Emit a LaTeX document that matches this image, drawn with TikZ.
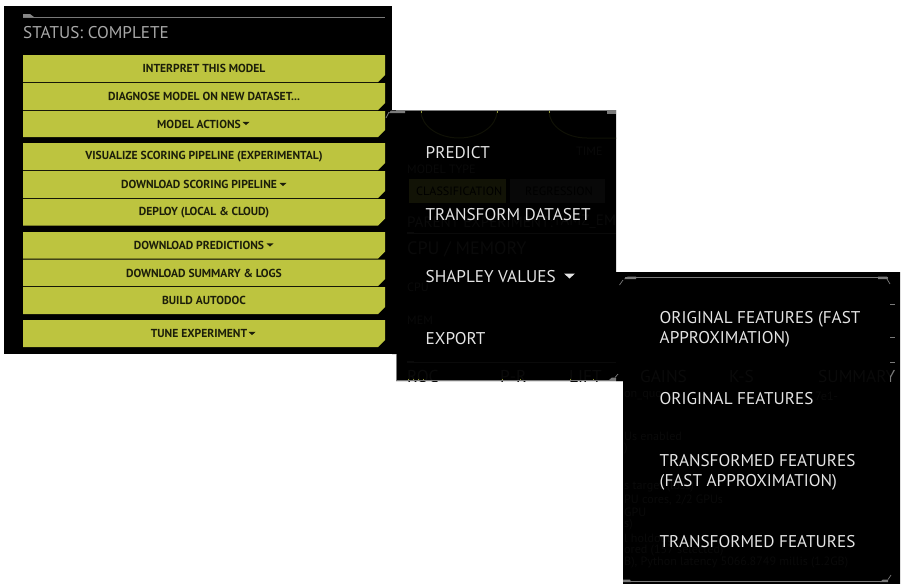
\documentclass[tikz,border=0pt]{standalone}
\usepackage{fontspec}
\setmainfont{PT Sans}
\newfontfamily\uifont[FakeStretch=1.01]{PT Sans}
\newfontfamily\btnfont[FakeStretch=1.0]{PT Sans}
\definecolor{lime}{HTML}{BDC43F}
\definecolor{btntext}{HTML}{1C1E0A}
\definecolor{menutext}{HTML}{E4E4E4}
\definecolor{statustext}{HTML}{A8A8A8}
\definecolor{rulegrey}{HTML}{7A7A7A}
\definecolor{ghost}{HTML}{0A0A0A}
\definecolor{ghostbox}{HTML}{080808}
\definecolor{ghostlime}{HTML}{121306}
\definecolor{ghostarc}{HTML}{101106}
\definecolor{tickcol}{HTML}{8E9334}
\tikzset{
  x=1pt,y=-1pt,
  panel/.style={fill=black,draw=none},
  btn/.style={fill=lime,draw=none},
  btnlabel/.style={text=btntext,font=\btnfont\bfseries\fontsize{11.6}{12}\selectfont,inner sep=0pt,anchor=center},
  menulabel/.style={text=menutext,font=\uifont\fontsize{17}{20}\selectfont,inner sep=0pt,anchor=west,align=left},
  ghostlabel/.style={text=ghost,font=\uifont\fontsize{15}{16}\selectfont,inner sep=0pt,anchor=west},
  tablabel/.style={text=ghost,font=\uifont\fontsize{17.2}{18}\selectfont,inner sep=0pt,anchor=west},
  smallghost/.style={text=ghost,font=\uifont\fontsize{12}{13}\selectfont,inner sep=0pt,anchor=west},
  trim/.style={draw=rulegrey,line width=1pt},
  fineline/.style={draw=ghost,line width=0.6pt},
  tickmark/.style={draw=tickcol,line width=1pt},
}
\newcommand{\btnat}[4]{% name, top y, bottom y, text
  \fill[btn] (23,#2) -- (385,#2) -- (385,#3-7) -- (378,#3) -- (23,#3) -- cycle;
  \node[btnlabel] (#1) at (204,{(#2+#3)/2+0.4}) {#4};
}
\newcommand{\downtri}[3]{\fill[#3] (#1-3.5,#2-1.7) -- (#1+3.5,#2-1.7) -- (#1,#2+1.7) -- cycle;}
\begin{document}
\begin{tikzpicture}
\useasboundingbox (0,0) rectangle (903,584);
\fill[white] (0,0) rectangle (903,584);
% panels
\fill[panel] (4,6) rectangle (392,354);
\fill[panel] (392,110) -- (616,110) -- (616,272) -- (623,272) -- (623,381) -- (396,381) -- (396,354) -- (392,354) -- cycle;
\fill[panel] (616,272) -- (900,272) -- (900,584) -- (623,584) -- (623,381) -- (616,381) -- cycle;
% panel 1
\draw[trim] (23,17) -- (385,17);
\fill[rulegrey!90!white] (23,17) -- (23,14) -- (30,14) -- (34,17) -- cycle;
\node[text=statustext,font=\uifont\fontsize{17}{19}\selectfont,inner sep=0pt,anchor=west] (status) at (23,32.5) {STATUS: COMPLETE};
\btnat{b1}{55}{82}{INTERPRET THIS MODEL}
\btnat{b2}{83}{110}{DIAGNOSE MODEL ON NEW DATASET...}
\btnat{b3}{111}{137}{MODEL ACTIONS\kern10pt}
\downtri{246}{123.5}{btntext}
\btnat{b4}{143}{170}{VISUALIZE SCORING PIPELINE (EXPERIMENTAL)}
\btnat{b5}{171}{198}{DOWNLOAD SCORING PIPELINE\kern10pt}
\downtri{283}{184.5}{btntext}
\btnat{b6}{199}{225.5}{DEPLOY (LOCAL \& CLOUD)}
\btnat{b7}{232}{258.5}{DOWNLOAD PREDICTIONS\kern10pt}
\downtri{270}{245}{btntext}
\btnat{b8}{259.5}{286}{DOWNLOAD SUMMARY \& LOGS}
\btnat{b9}{287}{314}{BUILD AUTODOC}
\btnat{b10}{320}{347}{TUNE EXPERIMENT\kern10pt}
\downtri{252}{333.5}{btntext}
% panel 2 ghosts
\begin{scope}
\clip (396,111) rectangle (616,381);
\draw[ghostarc,line width=1pt] (421,111) arc[start angle=180,end angle=360,x radius=38,y radius=-27];
\draw[ghostarc,line width=1pt] (549,111) arc[start angle=180,end angle=270,x radius=38,y radius=-27] -- (616,138);
\node[smallghost] (g1) at (407,169) {MODEL TYPE};
\fill[ghostlime] (409,179) rectangle (506,203);
\fill[ghostbox] (510,179) rectangle (605,203);
\node[smallghost,text=black] (g1a) at (416,191) {CLASSIFICATION};
\node[smallghost,text=black] (g1b) at (525,191) {REGRESSION};
\node[smallghost] (g2) at (576,151) {TIME};
\node[ghostlabel] (g3) at (407,222) {PARENT EXPERIMENT:};
\node[ghostlabel] (g4) at (553,222) {TAMZ\_EMP\_};
\draw[fineline] (407,233) -- (616,233);
\fill[ghost] (407,232) rectangle (414,234);
\node[text=ghost,font=\uifont\fontsize{18}{20}\selectfont,inner sep=0pt,anchor=west] (g5) at (407,249) {CPU / MEMORY};
\node[smallghost] (g6) at (407,287) {CPU};
\node[smallghost] (g7) at (407,320) {MEM};
\draw[fineline] (407,362) -- (616,362);
\fill[ghost] (407,360.5) rectangle (414,363);
\node[tablabel] (g8) at (407,376) {ROC};
\node[tablabel] (g9) at (500,376) {P-R};
\node[tablabel] (g10) at (569,376) {LIFT};
\end{scope}
\foreach \tx in {421,497,549}{\draw[tickmark] (\tx,111) -- (\tx,112.5);}
\foreach \tx in {408,413,418,423,502,520,570,593}{\draw[tickmark] (\tx,378.5) -- (\tx,380);}
% panel 2 trim
\draw[trim] (396,110.7) -- (616,110.7);
\fill[rulegrey] (391,110.5) -- (405,110.5) -- (405,113) -- (389,113) -- cycle;
\draw[rulegrey,line width=0.7pt] (389,112) -- (386,118);
\fill[rulegrey] (607,110.5) -- (616,110.5) -- (616,114) -- (607,114) -- cycle;
\draw[rulegrey,line width=0.8pt] (396.5,354) -- (396.5,380);
\draw[trim] (396,380.3) -- (611,380.3);
\fill[rulegrey] (608,380.8) -- (612,377.5) -- (616,377.5) -- (616,380.8) -- cycle;
\draw[rulegrey,line width=0.7pt] (615,377.5) -- (618,374);
% panel 3 ghosts
\begin{scope}
\clip (616,273) rectangle (900,584);
\node[tablabel] (g11) at (640,376) {GAINS};
\node[tablabel] (g12) at (729,376) {K-S};
\begin{scope}
\clip (616,273) rectangle (890.5,584);
\node[tablabel] (g13) at (818,376) {SUMMARY};
\end{scope}
\begin{scope}
\clip (890.5,273) rectangle (900,584);
\node[tablabel,text=rulegrey] (g13b) at (818,376) {SUMMARY};
\end{scope}
\node[smallghost] (g22) at (624,396) {on\_quo};
\node[smallghost] (g23) at (815,396) {7e1-};
\node[smallghost] (g14) at (624,436) {Us enabled};
\node[smallghost] (g24) at (624,449) {)};
\node[smallghost] (g15) at (624,487) {s target (loss)};
\node[smallghost] (g16) at (624,500) {PU cores, 2/2 GPUs};
\node[smallghost] (g17) at (624,512) {GPU};
\node[smallghost] (g18) at (624,525) {s)};
\node[smallghost] (g19) at (624,538) {l holdout};
\node[smallghost] (g20) at (624,551) {ored (157 selected)};
\node[smallghost] (g21) at (624,563) {B), Python latency 5066.8749 millis (1.2GB)};
\end{scope}
% panel 3 trim
\draw[trim] (625,277.7) -- (888,277.7);
\fill[rulegrey] (624,279) -- (628,276.5) -- (636,276.5) -- (636,279) -- cycle;
\draw[rulegrey,line width=0.7pt] (623,280) -- (619.5,285);
\fill[rulegrey] (878,276.5) -- (887,276.5) -- (888,279) -- (878,279) -- cycle;
\draw[rulegrey,line width=0.7pt] (887,279) -- (890,284);
\foreach \ty in {304.5,337.5,362}{\draw[rulegrey,line width=0.6pt] (890,\ty) -- (895,\ty);}
\draw[trim] (623,581.7) -- (888,581.7);
\fill[rulegrey] (623,579.5) -- (630,579.5) -- (631,582) -- (623,582) -- cycle;
\fill[rulegrey] (880,582) -- (883,579.5) -- (888,579.5) -- (888,582) -- cycle;
\draw[rulegrey,line width=0.7pt] (888,579.5) -- (891,575);
% menu labels
\node[menulabel] (m1) at (425.5,152.7) {PREDICT};
\node[menulabel] (m2) at (425.5,214.7) {TRANSFORM DATASET};
\node[menulabel] (m3) at (425.5,276.7) {SHAPLEY VALUES};
\fill[menutext] (564,273.5) -- (575,273.5) -- (569.5,278.5) -- cycle;
\node[menulabel] (m4) at (425.5,338.7) {EXPORT};
\node[menulabel] (o1) at (659.5,329) {ORIGINAL FEATURES (FAST\\APPROXIMATION)};
\node[menulabel] (o2) at (659.5,398.7) {ORIGINAL FEATURES};
\node[menulabel] (o3) at (659.5,472) {TRANSFORMED FEATURES\\(FAST APPROXIMATION)};
\node[menulabel] (o4) at (659.5,541.7) {TRANSFORMED FEATURES};
\end{tikzpicture}
\end{document}
